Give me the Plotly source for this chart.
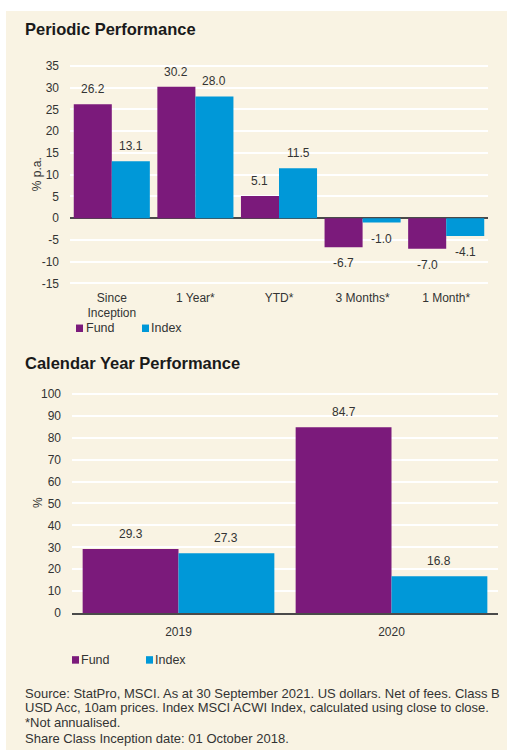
import plotly.graph_objects as go

# ---------------- data ----------------
periodic_categories = ["Since<br>Inception", "1 Year*", "YTD*", "3 Months*", "1 Month*"]
periodic_fund = [26.2, 30.2, 5.1, -6.7, -7.0]
periodic_index = [13.1, 28.0, 11.5, -1.0, -4.1]
periodic_yticks = [-15, -10, -5, 0, 5, 10, 15, 20, 25, 30, 35]

calendar_categories = ["2019", "2020"]
calendar_fund = [29.3, 84.7]
calendar_index = [27.3, 16.8]
calendar_yticks = [0, 10, 20, 30, 40, 50, 60, 70, 80, 90, 100]

series_names = ["Fund", "Index"]

footnotes = [
    "Source: StatPro, MSCI. As at 30 September 2021. US dollars. Net of fees. Class B",
    "USD Acc, 10am prices. Index MSCI ACWI Index, calculated using close to close.",
    "*Not annualised.",
    "Share Class Inception date: 01 October 2018.",
]

# ---------------- style ----------------
W, H = 507, 755
FONT = "Liberation Sans, Arial, Helvetica, sans-serif"
TXT = "#333333"
CREAM = "#f9f3e3"
PLOT_BG = "#eceef2"
PURPLE = "#7b1a7b"
BLUE = "#0098d8"
COLORS = [PURPLE, BLUE]


def px(x):
    return x / W


def py(y):
    return 1 - y / H


def tick_text(vals):
    # hyphen-minus like the reference, not the typographic minus
    return [str(v) for v in vals]


fig = go.Figure()

# top chart bars
BW1 = 0.455
for name, vals, col, off in [("Fund", periodic_fund, PURPLE, -BW1), ("Index", periodic_index, BLUE, 0.0)]:
    fig.add_trace(go.Bar(
        x=periodic_categories, y=vals, name=name, marker=dict(color=col, line=dict(width=0)),
        width=BW1, offset=off, xaxis="x", yaxis="y", showlegend=False, hoverinfo="x+y+name",
    ))

# bottom chart bars
BW2 = 0.45
for name, vals, col, off in [("Fund", calendar_fund, PURPLE, -BW2), ("Index", calendar_index, BLUE, 0.0)]:
    fig.add_trace(go.Bar(
        x=calendar_categories, y=vals, name=name, marker=dict(color=col, line=dict(width=0)),
        width=BW2, offset=off, xaxis="x2", yaxis="y2", showlegend=False, hoverinfo="x+y+name",
    ))

annotations = []


def value_labels(vals_list, bw, xref, yref):
    for s, vals in enumerate(vals_list):
        for i, v in enumerate(vals):
            xc = i - bw / 2 if s == 0 else i + bw / 2
            annotations.append(dict(
                x=xc, y=v, xref=xref, yref=yref, text=f"{v:.1f}", showarrow=False,
                yshift=15 if v >= 0 else -16, xanchor="center", yanchor="middle",
                font=dict(family=FONT, size=12, color=TXT),
            ))


value_labels([periodic_fund, periodic_index], BW1, "x", "y")
value_labels([calendar_fund, calendar_index], BW2, "x2", "y2")

# titles
for txt, y in [("Periodic Performance", 24), ("Calendar Year Performance", 364)]:
    annotations.append(dict(
        x=px(25), y=py(y), xref="paper", yref="paper", text=f"<b>{txt}</b>", showarrow=False,
        xanchor="left", yanchor="middle", xshift=-2, font=dict(family=FONT, size=16.5, color="#1a1a1a"),
    ))

# y-axis titles
for txt, x, y in [("% p.a.", 37, 172), ("%", 38, 506)]:
    annotations.append(dict(
        x=px(x), y=py(y), xref="paper", yref="paper", text=txt, showarrow=False, textangle=-90,
        xanchor="center", yanchor="middle", font=dict(family=FONT, size=12, color=TXT),
    ))

# manual legends
shapes = [dict(type="rect", xref="paper", yref="paper", x0=px(6), x1=px(W + 2), y0=py(H + 2), y1=py(6),
               fillcolor=CREAM, line=dict(width=0), layer="below")]
legend_rows = [
    (328.5, [(76, 86), (142, 151)]),
    (665.5, [(72, 81), (146, 155)]),
]
for yc, items in legend_rows:
    for (sx, tx), name, col in zip(items, series_names, COLORS):
        shapes.append(dict(type="rect", xref="paper", yref="paper", x0=px(sx), x1=px(sx + 7),
                           y0=py(yc + 3.8), y1=py(yc - 3.8), fillcolor=col, line=dict(width=0)))
        annotations.append(dict(
            x=px(tx), y=py(yc), xref="paper", yref="paper", text=name, showarrow=False,
            xanchor="left", yanchor="middle", xshift=-2, font=dict(family=FONT, size=12.5, color=TXT),
        ))

# footnotes
for line, y in zip(footnotes, [699.5, 714, 729, 745]):
    annotations.append(dict(
        x=px(25), y=py(y), xref="paper", yref="paper", text=line, showarrow=False,
        xanchor="left", yanchor="middle", xshift=-2, font=dict(family=FONT, size=13, color=TXT),
    ))

axis_font = dict(family=FONT, size=12, color=TXT)

fig.update_layout(
    width=W, height=H, autosize=False,
    margin=dict(l=0, r=0, t=0, b=0, pad=0),
    paper_bgcolor="white", plot_bgcolor=PLOT_BG,
    font=dict(family=FONT, size=12, color=TXT),
    barmode="group",
    xaxis=dict(domain=[px(70), px(488)], anchor="y", type="category", showgrid=False, ticks="",
               tickfont=axis_font, showline=False, zeroline=False, ticklabelstandoff=4,
               fixedrange=True),
    yaxis=dict(domain=[py(284.3), py(60.2)], anchor="x", range=[-15.3, 35.4],
               tickvals=periodic_yticks, ticktext=tick_text(periodic_yticks),
               gridcolor="white", gridwidth=2, zeroline=True, zerolinecolor="#4a4a4a", zerolinewidth=1.5,
               showline=False, ticks="", tickfont=axis_font, ticklabelstandoff=10, fixedrange=True),
    xaxis2=dict(domain=[px(72), px(498)], anchor="y2", type="category", showgrid=False, ticks="",
                tickfont=axis_font, showline=True, linecolor="#4a4a4a", linewidth=1.5, zeroline=False,
                ticklabelstandoff=7, fixedrange=True),
    yaxis2=dict(domain=[py(618), py(393.7)], anchor="x2", range=[0, 100.6],
                tickvals=calendar_yticks, ticktext=tick_text(calendar_yticks),
                gridcolor="white", gridwidth=2, zeroline=False, showline=False, ticks="",
                tickfont=axis_font, ticklabelstandoff=10, fixedrange=True),
    annotations=annotations,
    shapes=shapes,
    showlegend=False,
)

fig.write_html("out.html", config={"displayModeBar": False},
               post_script="document.body.style.margin='0';document.body.style.overflow='hidden';")
